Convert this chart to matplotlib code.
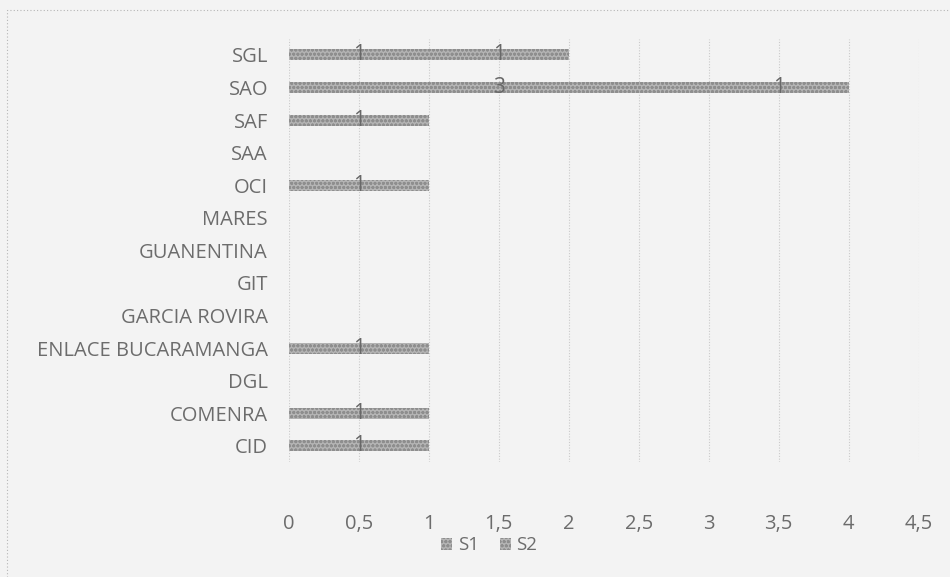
import matplotlib.pyplot as plt
from matplotlib.patches import Rectangle
from matplotlib.ticker import MultipleLocator, FuncFormatter

# Datos por dependencia (de abajo hacia arriba)
categorias = ["CID", "COMENRA", "DGL", "ENLACE BUCARAMANGA", "GARCIA ROVIRA",
              "GIT", "GUANENTINA", "MARES", "OCI", "SAA", "SAF", "SAO", "SGL"]
s1 = [1, 1, 0, 1, 0, 0, 0, 0, 1, 0, 1, 3, 1]
s2 = [0, 0, 0, 0, 0, 0, 0, 0, 0, 0, 0, 1, 1]

fondo = "#f3f3f3"
gris_texto = "#6c6c6c"
plt.rcParams['font.family'] = ['Open Sans', 'DejaVu Sans']
plt.rcParams['hatch.linewidth'] = 0.9

fig = plt.figure(figsize=(9.5, 5.77), dpi=100, facecolor=fondo)
ax = fig.add_axes([0.304, 0.199, 0.663, 0.734], facecolor=fondo)

# Marco punteado del grafico
fig.patches.append(Rectangle((0.007, -0.05), 1.2, 1.033, transform=fig.transFigure,
                             fill=False, edgecolor="#b5b5b5", linewidth=0.8,
                             linestyle=(0, (1, 2))))

y = range(len(categorias))
alto = 0.34
estilo = dict(height=alto, color="#b4b4b4", hatch="oooo", edgecolor="#8e8e8e",
              linewidth=0)
b1 = ax.barh(y, s1, label="S1", **estilo)
b2 = ax.barh(y, s2, left=s1, label="S2", **estilo)

# Etiquetas de valor al centro de cada segmento
for i in y:
    if s1[i]:
        ax.text(s1[i] / 2, i, str(s1[i]), ha="center", va="center",
                fontsize=15, color="#686868")
    if s2[i]:
        ax.text(s1[i] + s2[i] / 2, i, str(s2[i]), ha="center", va="center",
                fontsize=15, color="#686868")

ax.set_xlim(0, 4.5)
ax.set_ylim(-0.5, len(categorias) - 0.5)
ax.set_yticks(list(y))
ax.set_yticklabels(categorias)
ax.xaxis.set_major_locator(MultipleLocator(0.5))
ax.xaxis.set_major_formatter(FuncFormatter(lambda v, p: f"{v:g}".replace(".", ",")))
ax.grid(axis="x", color="#cacaca", linewidth=0.8, linestyle=(0, (1, 1.5)))
ax.set_axisbelow(True)
for lado in ax.spines.values():
    lado.set_visible(False)
ax.tick_params(length=0, labelsize=14.5, colors=gris_texto)
ax.tick_params(axis="x", pad=37)
ax.tick_params(axis="y", pad=15)

fig.legend(handles=[b1, b2], loc="center", bbox_to_anchor=(0.515, 0.055), ncol=2,
           frameon=False, fontsize=13.5, labelcolor=gris_texto, handlelength=0.6,
           handleheight=0.6, handletextpad=0.3, columnspacing=1.1)

fig.savefig("out.png", dpi=100, facecolor=fondo)
